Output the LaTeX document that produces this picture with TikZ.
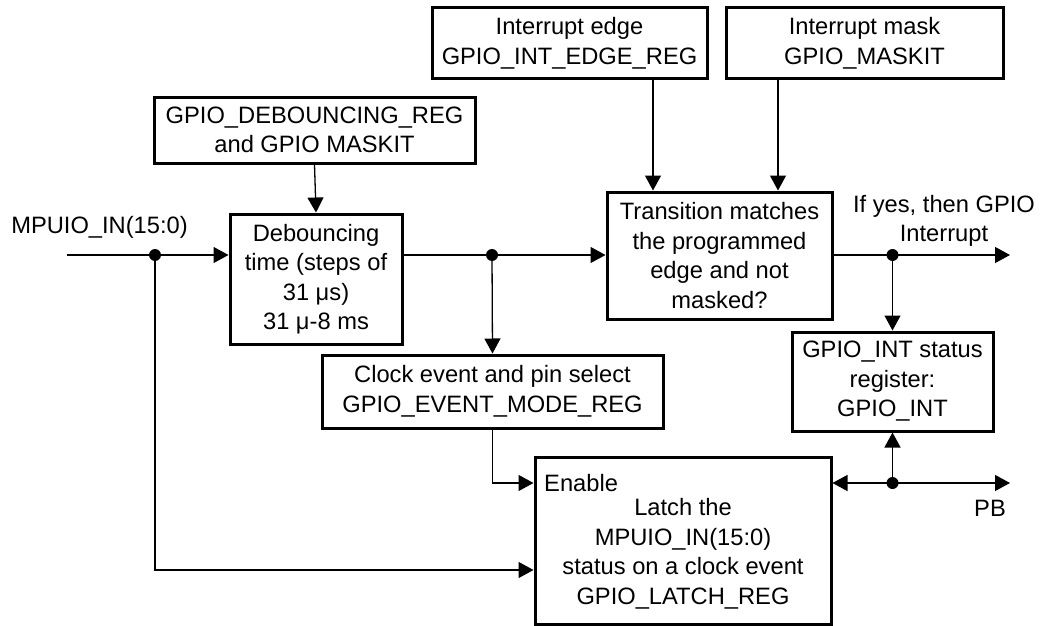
\documentclass[tikz,border=0pt]{standalone}
\usepackage{fontspec}
\setmainfont{Liberation Sans}
\usetikzlibrary{arrows.meta}
\begin{document}
\begin{tikzpicture}[x=1pt,y=-1pt,
  txt/.style={inner sep=0pt, align=center, font=\fontsize{23.7}{29.5}\selectfont},
  box/.style={txt, draw, line width=3pt},
  wire/.style={line width=1.3pt},
  arr/.style={wire, -{Triangle[length=15pt,width=16pt]}},
  junc/.style={circle, fill, inner sep=0pt, minimum size=12pt}]
\useasboundingbox (0,0) rectangle (1055,626);

% register and logic blocks
\node[box, minimum width=321pt, minimum height=66pt] (dreg) at (314.5,130)
  {GPIO\_DEBOUNCING\_REG\\and GPIO MASKIT};
\node[box, minimum width=172pt, minimum height=130pt] (deb) at (316,279)
  {Debouncing\\time (steps of\\31 μs)\\31 μ-8 ms};
\node[box, minimum width=275pt, minimum height=71pt] (edge) at (569.5,43.5)
  {Interrupt edge\\GPIO\_INT\_EDGE\_REG};
\node[box, minimum width=277pt, minimum height=71pt] (mask) at (864.5,43.5)
  {Interrupt mask\\GPIO\_MASKIT};
\node[box, minimum width=225pt, minimum height=127pt] (trans) at (719.5,255.5)
  {Transition matches\\the programmed\\edge and not\\masked?};
\node[box, minimum width=341pt, minimum height=73pt] (clock) at (492.5,391.5)
  {Clock event and pin select\\GPIO\_EVENT\_MODE\_REG};
\node[box, minimum width=201pt, minimum height=99pt] (gint) at (892.5,381.5)
  {GPIO\_INT status\\register:\\GPIO\_INT};
\node[box, minimum width=296pt, minimum height=167pt] (latch) at (683,540.5) {};
\node[txt, anchor=west] (enable) at (544,483) {Enable};
\node[txt] (latchtxt) at (683,554)
  {Latch the\\MPUIO\_IN(15:0)\\status on a clock event\\GPIO\_LATCH\_REG};

% free labels
\node[txt] (inlbl) at (99.5,227) {MPUIO\_IN(15:0)};
\node[txt] (irqlbl) at (944,221) {If yes, then GPIO\\Interrupt};
\node[txt] (pblbl) at (990,508) {PB};

% junction points, bends and line ends
\coordinate (in) at (67,255);
\coordinate (j1) at (155,255);
\coordinate (j2) at (492,255);
\coordinate (j3) at (892.5,255);
\coordinate (j4) at (892.5,483);
\coordinate (bend) at (155,570);
\coordinate (irq) at (1010,255);
\coordinate (pb) at (1010,483);
\coordinate (ex) at (653,0);
\coordinate (mx) at (778,0);

% connectors
\draw[arr] (in) -- (j1) -- (j1 -| deb.west);
\draw[arr] (j1 -| deb.east) -- (j2) -- (j2 -| trans.west);
\draw[arr] (j3 -| trans.east) -- (j3) -- (irq);
\draw[arr] (dreg.south) -- (deb.north);
\draw[arr] (edge.south -| ex) -- (trans.north -| ex);
\draw[arr] (mask.south -| mx) -- (trans.north -| mx);
\draw[arr] (j2) -- (clock.north);
\draw[arr] (j3) -- (gint.north);
\draw[arr] (clock.south) |- (enable.west -| latch.west);
\draw[arr] (j1) -- (bend) -- (bend -| latch.west);
\draw[arr] (j4) -- (gint.south);
\draw[arr] (j4) -- (j4 -| latch.east);
\draw[arr] (j4) -- (pb);

\node[junc] at (j1) {};
\node[junc] at (j2) {};
\node[junc] at (j3) {};
\node[junc] at (j4) {};
\end{tikzpicture}
\end{document}
